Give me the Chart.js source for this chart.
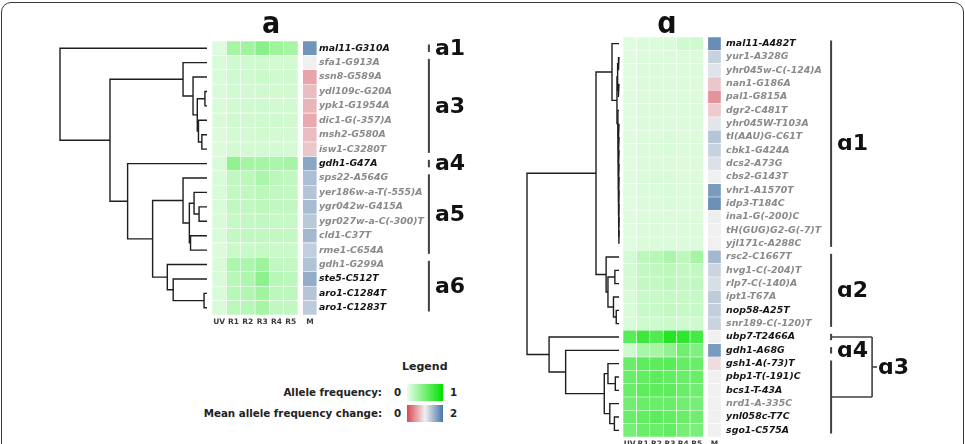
<!DOCTYPE html>
<html>
<head>
<meta charset="utf-8">
<script src="https://cdn.jsdelivr.net/npm/chart.js@4.4.0/dist/chart.umd.min.js"></script>
<style>
  html, body { margin: 0; padding: 0; background: #fff; width: 965px; height: 444px; overflow: hidden; }
  body { position: relative; font-family: 'DejaVu Sans', Verdana, sans-serif; }
  .frame { position: absolute; left: 1px; top: 2px; width: 963px; height: 480px; box-sizing: border-box;
           border: 1.5px solid #3a3a3a; border-radius: 10px; }
  canvas { position: absolute; }
  .lg { position: absolute; font-weight: bold; color: #222; white-space: nowrap; line-height: 1;
        font-size: 10.3px; transform: translateY(-50%); }
  .box { position: absolute; width: 36px; height: 17px; }
</style>
</head>
<body>
<div class="frame"></div>
<canvas id="leftChart"></canvas>
<canvas id="rightChart"></canvas>

<div class="lg" style="left:402px; top:366px; font-size:11px;">Legend</div>
<div class="lg" style="right:583px; top:392px;">Allele frequency:</div>
<div class="lg" style="left:394px; top:392px;">0</div>
<div class="box" style="left:407px; top:384px; background:linear-gradient(to right, rgb(235,253,235), rgb(0,225,0));"></div>
<div class="lg" style="left:450px; top:392px;">1</div>
<div class="lg" style="right:583px; top:413px;">Mean allele frequency change:</div>
<div class="lg" style="left:394px; top:413px;">0</div>
<div class="box" style="left:407px; top:405px; background:linear-gradient(to right, rgb(220,70,85), rgb(240,240,241), rgb(70,118,168));"></div>
<div class="lg" style="left:450px; top:413px;">2</div>

<script>
const colLabels = ['UV', 'R1', 'R2', 'R3', 'R4', 'R5', 'M'];
const colCenters = [0.5, 1.5, 2.5, 3.5, 4.5, 5.5, 6.83];
const mSpan = [6.33, 7.32];

// ---- panel a ----
const leftGenes = ['mal11-G310A', 'sfa1-G913A', 'ssn8-G589A', 'ydl109c-G20A', 'ypk1-G1954A',
  'dic1-G(-357)A', 'msh2-G580A', 'isw1-C3280T', 'gdh1-G47A', 'sps22-A564G',
  'yer186w-a-T(-555)A', 'ygr042w-G415A', 'ygr027w-a-C(-300)T', 'cld1-C37T', 'rme1-C654A',
  'gdh1-G299A', 'ste5-C512T', 'aro1-C1284T', 'aro1-C1283T'];
const leftDark = [1, 0, 0, 0, 0, 0, 0, 0, 1, 0, 0, 0, 0, 0, 0, 0, 1, 1, 1];
// allele frequency: UV, R1..R5
const leftAF = [
  [0.06, 0.30, 0.32, 0.42, 0.33, 0.30],
  [0.08, 0.12, 0.12, 0.12, 0.10, 0.10],
  [0.08, 0.12, 0.12, 0.14, 0.12, 0.12],
  [0.08, 0.11, 0.11, 0.12, 0.11, 0.11],
  [0.08, 0.11, 0.12, 0.12, 0.11, 0.11],
  [0.08, 0.12, 0.12, 0.12, 0.12, 0.11],
  [0.07, 0.10, 0.10, 0.11, 0.10, 0.10],
  [0.07, 0.10, 0.10, 0.10, 0.10, 0.09],
  [0.08, 0.38, 0.30, 0.30, 0.27, 0.30],
  [0.08, 0.18, 0.20, 0.27, 0.20, 0.18],
  [0.08, 0.17, 0.18, 0.20, 0.18, 0.17],
  [0.08, 0.18, 0.18, 0.20, 0.18, 0.18],
  [0.08, 0.16, 0.17, 0.18, 0.16, 0.16],
  [0.08, 0.17, 0.18, 0.18, 0.17, 0.17],
  [0.07, 0.14, 0.15, 0.16, 0.14, 0.14],
  [0.08, 0.26, 0.27, 0.33, 0.18, 0.17],
  [0.08, 0.22, 0.26, 0.40, 0.22, 0.20],
  [0.08, 0.22, 0.24, 0.32, 0.20, 0.20],
  [0.08, 0.20, 0.22, 0.30, 0.18, 0.18]
];
// mean allele frequency change (0..2)
const leftM = [1.75, 1.0, 0.55, 0.7, 0.65, 0.58, 0.7, 0.75, 1.6, 1.4, 1.35, 1.42, 1.32, 1.45, 1.28, 1.37, 1.55, 1.35, 1.3];
// merges: [child a, child b, height]; new node ids start at leftGenes.length
const leftLinkage = [
  [3, 4, 0.014], [6, 7, 0.035], [5, 20, 0.058], [19, 21, 0.066], [2, 22, 0.095],
  [1, 23, 0.163], [17, 18, 0.02], [16, 25, 0.23], [15, 26, 0.27], [11, 12, 0.054],
  [10, 28, 0.088], [13, 14, 0.112], [29, 30, 0.12], [9, 31, 0.163], [32, 27, 0.37],
  [8, 33, 0.54], [24, 34, 0.66], [0, 35, 1.0]
];
const leftClusters = [
  { name: 'a1', from: 0, to: 0 }, { name: 'a3', from: 1, to: 7 }, { name: 'a4', from: 8, to: 8 },
  { name: 'a5', from: 9, to: 14 }, { name: 'a6', from: 15, to: 18 }
];

// ---- panel ɑ ----
const rightGenes = ['mal11-A482T', 'yur1-A328G', 'yhr045w-C(-124)A', 'nan1-G186A', 'pal1-G815A',
  'dgr2-C481T', 'yhr045W-T103A', 'tI(AAU)G-C61T', 'cbk1-G424A', 'dcs2-A73G', 'cbs2-G143T',
  'vhr1-A1570T', 'idp3-T184C', 'ina1-G(-200)C', 'tH(GUG)G2-G(-7)T', 'yjl171c-A288C',
  'rsc2-C1667T', 'hvg1-C(-204)T', 'rlp7-C(-140)A', 'ipt1-T67A', 'nop58-A25T', 'snr189-C(-120)T',
  'ubp7-T2466A', 'gdh1-A68G', 'gsh1-A(-73)T', 'pbp1-T(-191)C', 'bcs1-T-43A', 'nrd1-A-335C',
  'ynl058c-T7C', 'sgo1-C575A'];
const rightDark = [1, 0, 0, 0, 0, 0, 0, 0, 0, 0, 0, 0, 0, 0, 0, 0,
  0, 0, 0, 0, 1, 0, 1, 1, 1, 1, 1, 0, 1, 1];
const rightAF = [
  [0.05, 0.07, 0.07, 0.08, 0.12, 0.12],
  [0.05, 0.07, 0.07, 0.07, 0.07, 0.07],
  [0.05, 0.07, 0.07, 0.07, 0.07, 0.07],
  [0.05, 0.07, 0.07, 0.07, 0.07, 0.07],
  [0.05, 0.07, 0.07, 0.07, 0.07, 0.07],
  [0.05, 0.07, 0.07, 0.07, 0.07, 0.07],
  [0.05, 0.07, 0.07, 0.07, 0.07, 0.07],
  [0.05, 0.07, 0.07, 0.08, 0.07, 0.07],
  [0.05, 0.07, 0.07, 0.08, 0.07, 0.07],
  [0.05, 0.07, 0.07, 0.07, 0.07, 0.07],
  [0.05, 0.07, 0.08, 0.08, 0.07, 0.07],
  [0.05, 0.07, 0.07, 0.08, 0.07, 0.07],
  [0.05, 0.07, 0.07, 0.08, 0.07, 0.07],
  [0.05, 0.07, 0.07, 0.07, 0.07, 0.07],
  [0.05, 0.07, 0.07, 0.07, 0.07, 0.07],
  [0.05, 0.07, 0.07, 0.07, 0.07, 0.07],
  [0.10, 0.20, 0.22, 0.28, 0.20, 0.30],
  [0.10, 0.17, 0.18, 0.20, 0.17, 0.17],
  [0.10, 0.17, 0.17, 0.20, 0.17, 0.18],
  [0.08, 0.15, 0.15, 0.16, 0.16, 0.16],
  [0.08, 0.15, 0.15, 0.17, 0.16, 0.16],
  [0.08, 0.12, 0.12, 0.14, 0.12, 0.12],
  [0.62, 0.75, 0.66, 0.85, 0.80, 0.70],
  [0.12, 0.28, 0.30, 0.38, 0.52, 0.45],
  [0.55, 0.60, 0.60, 0.62, 0.57, 0.55],
  [0.55, 0.58, 0.60, 0.58, 0.55, 0.55],
  [0.55, 0.60, 0.60, 0.60, 0.55, 0.52],
  [0.52, 0.55, 0.55, 0.55, 0.52, 0.50],
  [0.55, 0.58, 0.60, 0.58, 0.55, 0.52],
  [0.50, 0.55, 0.55, 0.58, 0.50, 0.48]
];
const rightM = [1.8, 1.25, 1.1, 0.75, 0.45, 0.78, 1.08, 1.35, 1.25, 1.12, 1.0, 1.7, 1.78, 1.02, 1.0,
  1.0, 1.45, 1.22, 1.15, 1.3, 1.28, 1.23, 1.0, 1.7, 0.88, 1.0, 1.0, 1.0, 1.0, 1.0];
const rightLinkage = [
  [1, 2, 0.008], [3, 4, 0.01], [30, 31, 0.015], [14, 15, 0.002], [13, 33, 0.003],
  [12, 34, 0.004], [11, 35, 0.005], [10, 36, 0.006], [9, 37, 0.007], [8, 38, 0.008],
  [7, 39, 0.009], [6, 40, 0.01], [5, 41, 0.012], [32, 42, 0.022], [0, 43, 0.076],
  [17, 18, 0.045], [20, 21, 0.03], [19, 46, 0.06], [45, 47, 0.12], [16, 48, 0.14],
  [44, 49, 0.25], [25, 26, 0.04], [24, 51, 0.12], [28, 29, 0.05], [27, 53, 0.1],
  [52, 54, 0.16], [23, 55, 0.58], [22, 56, 0.76], [50, 57, 1.0]
];
const rightClusters = [
  { name: 'ɑ1', from: 0, to: 15 }, { name: 'ɑ2', from: 16, to: 21 }, { name: '', from: 22, to: 22 },
  { name: 'ɑ4', from: 23, to: 23 }, { name: '', from: 24, to: 29 }
];
const rightJoins = [{ name: 'ɑ3', top: 2, bottom: 4 }];

Chart.defaults.font.family = "'DejaVu Sans', Verdana, sans-serif";

const afLow = [235, 253, 235], afHigh = [0, 225, 0];
const mLow = [220, 70, 85], mMid = [240, 240, 241], mHigh = [70, 118, 168];
const mix = (a, b, t) => 'rgb(' + a.map((v, i) => Math.round(v + (b[i] - v) * t)).join(',') + ')';
const afColor = v => mix(afLow, afHigh, Math.max(0, Math.min(1, v)));
const mColor = v => v < 1 ? mix(mLow, mMid, Math.max(0, v)) : mix(mMid, mHigh, Math.min(1, v - 1));

const cellStyle = {
  type: 'bar', indexAxis: 'y', xAxisID: 'x', yAxisID: 'y',
  borderColor: 'rgba(255,255,255,0.75)', borderWidth: 0.6, borderSkipped: false,
  grouped: false, categoryPercentage: 1, barPercentage: 1
};

function heatSets(af, m) {
  const sets = [];
  for (let c = 0; c < 6; c++) {
    sets.push({ ...cellStyle, label: colLabels[c],
      data: af.map(() => [c, c + 1]),
      backgroundColor: af.map(r => afColor(r[c])) });
  }
  sets.push({ ...cellStyle, label: 'M', data: m.map(() => mSpan), backgroundColor: m.map(mColor) });
  return sets;
}

function dendroSets(linkage, n) {
  const pos = [], hgt = [];
  for (let i = 0; i < n; i++) { pos[i] = i; hgt[i] = 0; }
  return linkage.map(([a, b, h], k) => {
    pos[n + k] = (pos[a] + pos[b]) / 2;
    hgt[n + k] = h;
    return {
      type: 'line', xAxisID: 'xd', yAxisID: 'yd', clip: false,
      data: [{ x: hgt[a], y: pos[a] }, { x: h, y: pos[a] }, { x: h, y: pos[b] }, { x: hgt[b], y: pos[b] }],
      borderColor: '#1e1e1e', borderWidth: 1.4, pointRadius: 0, fill: false, tension: 0
    };
  });
}

function decoPlugin(p) {
  return {
    id: 'deco',
    afterDraw(chart) {
      const ctx = chart.ctx, yd = chart.scales.yd, area = chart.chartArea;
      ctx.save();
      ctx.fillStyle = '#111';
      ctx.font = "bold 30px 'DejaVu Sans Condensed', 'DejaVu Sans', sans-serif";
      ctx.textAlign = 'center';
      ctx.textBaseline = 'alphabetic';
      ctx.fillText(p.title, p.titleX - p.canvas.left, 33 - p.canvas.top);

      const bx = area.right + p.bracketGap;
      ctx.strokeStyle = '#404040';
      ctx.lineWidth = 2;
      ctx.font = "bold 22px 'DejaVu Sans', sans-serif";
      ctx.textAlign = 'left';
      ctx.textBaseline = 'middle';
      const seg = (x1, y1, x2, y2) => { ctx.beginPath(); ctx.moveTo(x1, y1); ctx.lineTo(x2, y2); ctx.stroke(); };
      const mids = p.clusters.map(cl => {
        const y1 = yd.getPixelForValue(cl.from - 0.5) + 3.5;
        const y2 = yd.getPixelForValue(cl.to + 0.5) - 3.5;
        seg(bx, y1, bx, y2);
        if (cl.name) ctx.fillText(cl.name, bx + 6, (y1 + y2) / 2 + 1);
        return (y1 + y2) / 2;
      });
      (p.joins || []).forEach(j => {
        const yt = mids[j.top], yb = mids[j.bottom], bw = 41;
        ctx.lineWidth = 1.6;
        seg(bx, yt, bx + bw, yt);
        seg(bx + bw, yt, bx + bw, yb);
        seg(bx + bw, yb, bx, yb);
        seg(bx + bw, (yt + yb) / 2, bx + bw + 5, (yt + yb) / 2);
        ctx.fillText(j.name, bx + bw + 6, (yt + yb) / 2 + 1);
      });
      ctx.restore();
    }
  };
}

function buildPanel(id, p) {
  const el = document.getElementById(id);
  el.width = p.canvas.w; el.height = p.canvas.h;
  el.style.left = p.canvas.left + 'px'; el.style.top = p.canvas.top + 'px';
  const n = p.genes.length;
  const xMax = mSpan[1];
  const areaRight = p.heatLeft + xMax * p.cellW;
  const W = areaRight - p.areaLeft;
  const hidden = { display: false, offset: false, grid: { offset: false } };
  new Chart(el, {
    type: 'bar',
    data: { labels: p.genes, datasets: [...heatSets(p.af, p.m), ...dendroSets(p.linkage, n)] },
    options: {
      responsive: false, animation: false, events: [],
      layout: { padding: { left: p.areaLeft - p.canvas.left, top: p.areaTop - p.canvas.top, right: 0, bottom: 0 } },
      plugins: { legend: { display: false }, tooltip: { enabled: false }, title: { display: false } },
      scales: {
        x: {
          type: 'linear', position: 'bottom', offset: false, min: xMax - W / p.cellW, max: xMax,
          grid: { display: false, drawTicks: false, offset: false }, border: { display: false },
          afterBuildTicks: ax => { ax.ticks = colCenters.map(v => ({ value: v })); },
          afterFit: ax => {
            ax.height = p.canvas.top + p.canvas.h - p.areaBottom;
            ax.paddingLeft = 0; ax.paddingRight = 0;
          },
          ticks: { autoSkip: false, maxRotation: 0, padding: 3, color: '#3c3c3c',
                   font: { size: 7.5, weight: 'bold' }, callback: (v, i) => colLabels[i] }
        },
        y: {
          type: 'category', position: 'right', offset: true,
          grid: { display: false, drawTicks: false }, border: { display: false },
          afterFit: ax => { ax.width = p.canvas.left + p.canvas.w - areaRight; },
          ticks: { autoSkip: false, padding: p.labelPad,
                   color: c => p.dark[c.index] ? '#151515' : '#8a8a8a',
                   font: { size: 9.4, style: 'italic', weight: 'bold' } }
        },
        xd: { ...hidden, type: 'linear', axis: 'x', reverse: true, max: 1, min: 1 - W / (p.leafX - p.areaLeft) },
        yd: { ...hidden, type: 'linear', axis: 'y', reverse: true, min: -0.5, max: n - 0.5 }
      }
    },
    plugins: [decoPlugin(p)]
  });
}

buildPanel('leftChart', {
  genes: leftGenes, dark: leftDark, af: leftAF, m: leftM, linkage: leftLinkage,
  clusters: leftClusters, title: 'a', titleX: 271,
  canvas: { left: 40, top: 5, w: 440, h: 330 },
  areaLeft: 60, areaTop: 41, areaBottom: 315, heatLeft: 212, cellW: 14.33, leafX: 207,
  labelPad: 2, bracketGap: 112
});

buildPanel('rightChart', {
  genes: rightGenes, dark: rightDark, af: rightAF, m: rightM, linkage: rightLinkage,
  clusters: rightClusters, joins: rightJoins, title: 'ɑ', titleX: 667,
  canvas: { left: 500, top: 5, w: 450, h: 450 },
  areaLeft: 527, areaTop: 37, areaBottom: 437, heatLeft: 623, cellW: 13.4, leafX: 619,
  labelPad: 5, bracketGap: 110
});
</script>
</body>
</html>
